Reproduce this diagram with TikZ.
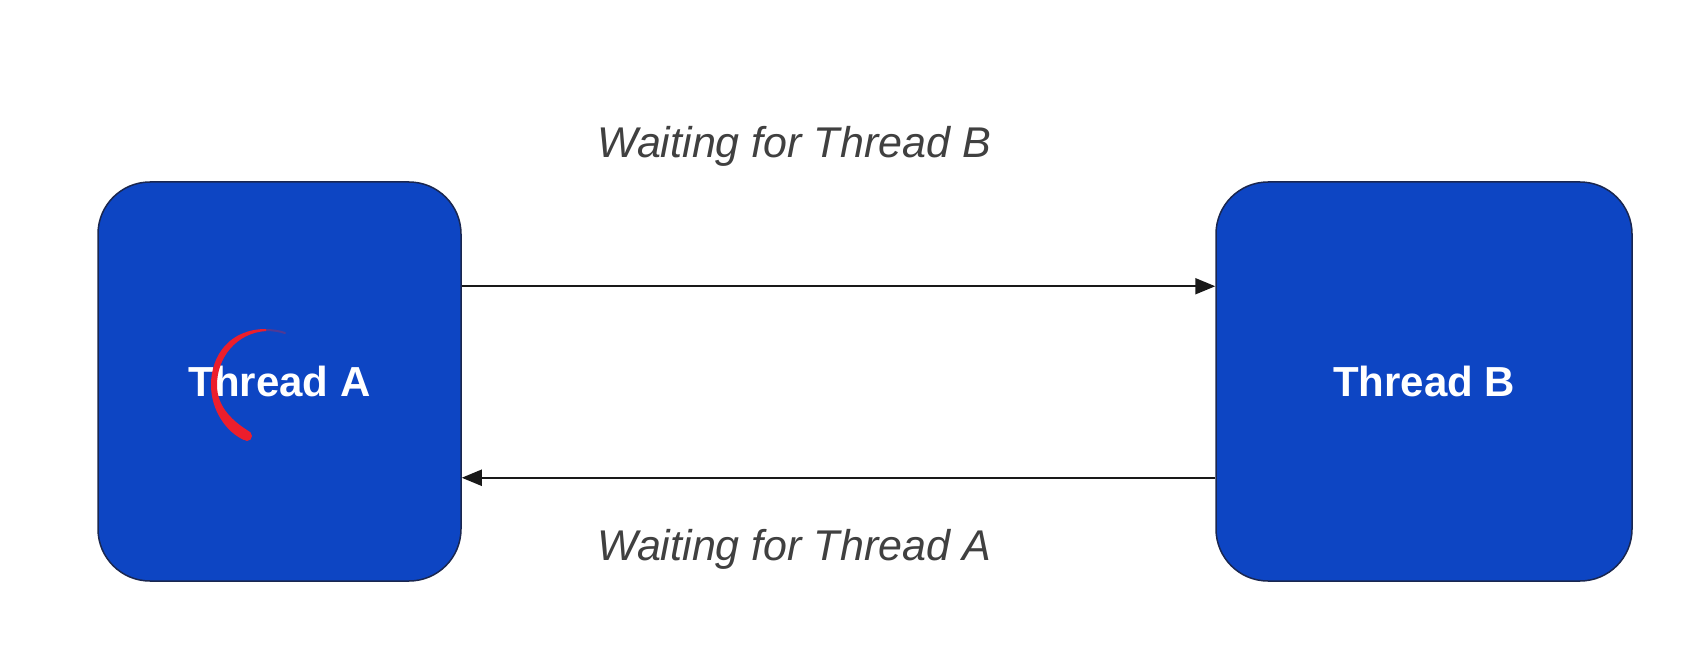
\documentclass[tikz,border=0pt]{standalone}
\usepackage{fontspec}
\setmainfont{Liberation Sans}
\usetikzlibrary{arrows.meta}
\definecolor{boxblue}{HTML}{0D45C3}
\definecolor{boxedge}{HTML}{1A2750}
\definecolor{labelgray}{HTML}{404040}
\definecolor{penred}{HTML}{EC1E2C}
\begin{document}
\begin{tikzpicture}[x=1pt,y=-1pt,
  threadbox/.style={draw=boxedge, line width=1.5pt, fill=boxblue, rounded corners=52pt,
    minimum width=363pt, minimum height=399pt, inner sep=0pt,
    text=white, font=\fontsize{42}{48}\selectfont\bfseries},
  waitlabel/.style={text=labelgray, font=\fontsize{43}{50}\selectfont\itshape, anchor=base, inner sep=0pt},
  arr/.style={draw=black!90, line width=2pt, -{Triangle[length=20pt,width=16pt]}}]
\useasboundingbox (0,0) rectangle (1688,647);
\fill[white] (0,0) rectangle (1688,647);
\node[threadbox, minimum width=363pt] (A) at (279.5,381.5) {Thread A};
\node[threadbox, minimum width=416pt] (B) at (1424,381.5) {Thread B};
\draw[arr] ([yshift=-105pt]A.north east) -- ([yshift=-105pt]B.north west);
\draw[arr] ([yshift=104pt]B.south west) -- ([yshift=104pt]A.south east);
\node[waitlabel] (lb) at (794,158) {Waiting for Thread B};
\node[waitlabel] (la) at (794,560) {Waiting for Thread A};
% red pen stroke
\fill[penred] (266,329) .. controls (230,329) and (211,355) .. (211,385)
  .. controls (211,410) and (226,432) .. (244,440)
  -- (250,432)
  .. controls (234,422) and (217,408) .. (217,385)
  .. controls (217,358) and (236,333) .. (266,331) -- cycle;
\fill[penred] (247,436) circle[radius=5pt];
\draw[penred, opacity=0.3, line width=2pt, line cap=round] (265,330) .. controls (273,330) and (279,331) .. (285,333);
\end{tikzpicture}
\end{document}
